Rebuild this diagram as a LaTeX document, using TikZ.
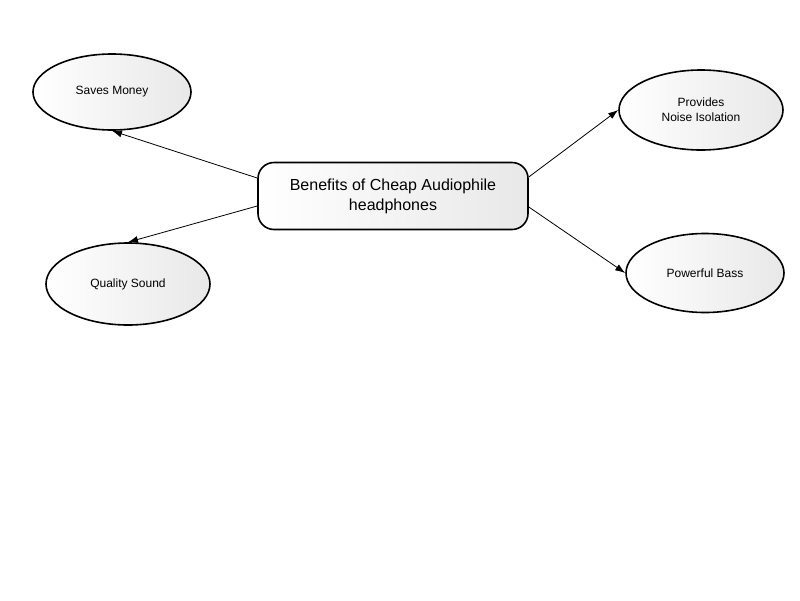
\documentclass[tikz,border=0pt]{standalone}
\usepackage{fontspec}
\setmainfont{Liberation Sans}
\usetikzlibrary{shapes.geometric,arrows.meta}
\begin{document}
\begin{tikzpicture}[x=1pt,y=-1pt,
  idea/.style={ellipse,draw=black,line width=1.6pt,left color=white,right color=black!9,
    minimum width=#1,font=\fontsize{12}{15}\selectfont,align=center,inner sep=0pt},
  idea/.default=160,
  hub/.style={rectangle,rounded corners=16pt,draw=black,line width=1.6pt,left color=white,right color=black!9,
    minimum width=270,minimum height=67,font=\fontsize{16}{20}\selectfont,align=center},
  link/.style={-{Latex[length=10pt,width=7pt]},line width=0.8pt}]
\useasboundingbox (0,0) rectangle (800,600);
\node[hub] (c) at (393,196) {Benefits of Cheap Audiophile\\headphones};
\node[idea=158,minimum height=76] (sm) at (112,92) {Saves Money};
\node[idea=164,minimum height=82] (qs) at (128,284) {Quality Sound};
\node[idea=164,minimum height=80] (pn) at (701,110) {Provides\\Noise Isolation};
\node[idea=158,minimum height=79] (pb) at (705,273) {Powerful Bass};
\coordinate (c1) at ([yshift=18]c.west);
\coordinate (c2) at ([yshift=-10]c.west);
\coordinate (c3) at ([yshift=19]c.east);
\coordinate (c4) at ([yshift=-11]c.east);
\draw[link] (c1) -- (sm.south);
\draw[link] (c2) -- (qs.north);
\draw[link] (c3) -- (pn.west);
\draw[link] (c4) -- (pb.west);
\end{tikzpicture}
\end{document}
